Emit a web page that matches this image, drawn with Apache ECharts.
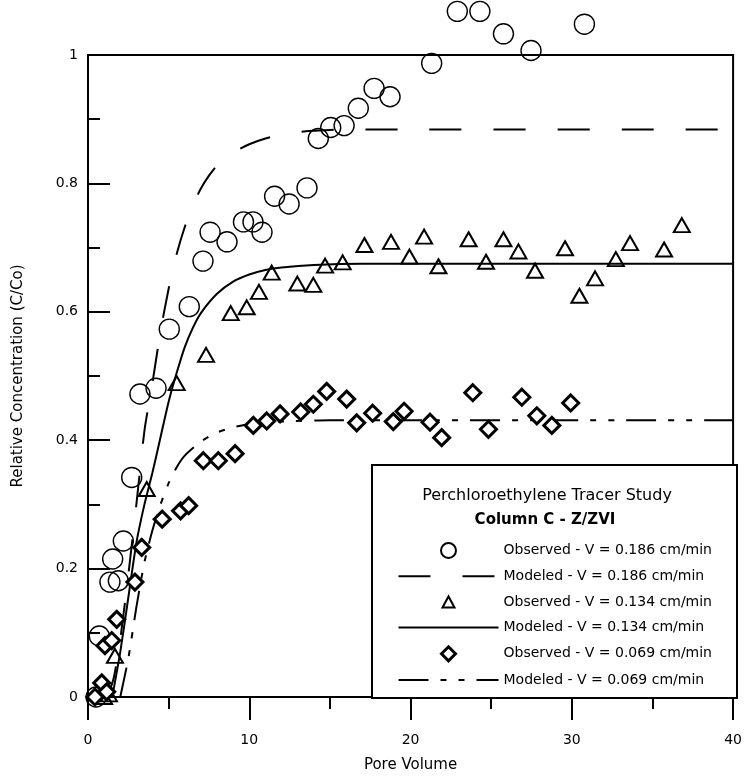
<!DOCTYPE html>
<html>
<head>
<meta charset="utf-8">
<script src="https://cdn.jsdelivr.net/npm/echarts@6/dist/echarts.min.js"></script>
<style>html,body{margin:0;padding:0;background:#fff;}#chart{width:745px;height:778px;}</style>
</head>
<body>
<div id="chart"></div>
<script>
// Observed data, V = 0.186 cm/min (circles)
const obs186 = [[0.5,0.0],[0.7,0.095],[1.36,0.179],[1.88,0.181],[1.53,0.215],[2.19,0.243],[2.71,0.342],
  [3.22,0.472],[4.22,0.481],[5.04,0.573],[6.28,0.608],[7.13,0.679],[7.57,0.724],[8.62,0.709],[9.64,0.740],
  [10.23,0.740],[10.79,0.724],[11.57,0.780],[12.47,0.768],[13.58,0.793],[14.28,0.870],[15.05,0.887],
  [15.88,0.890],[16.76,0.917],[17.74,0.948],[18.73,0.935],[21.31,0.987],[22.9,1.068],[24.3,1.068],
  [25.76,1.033],[27.47,1.007],[30.78,1.048]];
// Observed data, V = 0.134 cm/min (triangles)
const obs134 = [[1.0,0.0],[1.3,0.004],[1.67,0.064],[3.64,0.324],[5.50,0.489],[7.32,0.533],[8.85,0.598],
  [9.84,0.607],[10.6,0.631],[11.39,0.661],[12.98,0.644],[13.97,0.642],[14.70,0.672],[15.79,0.677],
  [17.14,0.704],[18.79,0.709],[19.93,0.686],[20.84,0.717],[21.73,0.671],[23.6,0.713],[24.68,0.678],
  [25.76,0.713],[26.69,0.694],[27.72,0.664],[29.58,0.699],[30.47,0.625],[31.44,0.652],[32.73,0.682],
  [33.61,0.707],[35.72,0.697],[36.82,0.735]];
// Observed data, V = 0.069 cm/min (diamonds)
const obs069 = [[0.43,0.0],[0.85,0.022],[1.16,0.008],[1.05,0.08],[1.47,0.088],[1.78,0.121],[2.91,0.179],
  [3.33,0.233],[4.6,0.277],[5.74,0.29],[6.24,0.298],[7.15,0.368],[8.08,0.368],[9.12,0.379],[10.25,0.423],
  [11.08,0.430],[11.91,0.441],[13.19,0.444],[13.97,0.456],[14.80,0.476],[16.04,0.464],[16.66,0.427],
  [17.65,0.442],[18.93,0.429],[19.60,0.445],[21.21,0.428],[21.93,0.404],[23.86,0.474],[24.83,0.417],
  [26.90,0.467],[27.83,0.438],[28.76,0.423],[29.93,0.458]];
// Modeled curves
const mod186 = [[1.2,0],[1.6,0.03],[2.0,0.09],[2.5,0.19],[3.0,0.30],[3.5,0.415],[4.0,0.49],[4.5,0.57],
  [5.0,0.636],[5.5,0.69],[6.0,0.732],[6.5,0.766],[7.0,0.792],[7.5,0.812],[8.0,0.828],[9.0,0.848],
  [10,0.861],[11,0.870],[12,0.876],[13,0.880],[14,0.882],[16,0.884],[40,0.884]];
const mod134 = [[1.5,0],[2.0,0.07],[2.5,0.155],[3.0,0.24],[3.5,0.30],[4.0,0.35],[4.5,0.405],[5.0,0.46],
  [5.5,0.505],[6.0,0.545],[6.5,0.575],[7.0,0.598],[8.0,0.628],[9.0,0.647],[10,0.658],[11,0.665],
  [12,0.669],[14,0.673],[17,0.675],[40,0.675]];
const mod069 = [[2.0,0],[2.5,0.06],[3.0,0.14],[3.5,0.21],[4.0,0.26],[4.5,0.30],[5.0,0.333],[5.5,0.358],
  [6.0,0.376],[7.0,0.398],[8.0,0.412],[9.0,0.420],[10,0.425],[12,0.429],[15,0.431],[40,0.431]];

const seriesNames = ['Observed - V = 0.186 cm/min','Modeled - V = 0.186 cm/min',
  'Observed - V = 0.134 cm/min','Modeled - V = 0.134 cm/min',
  'Observed - V = 0.069 cm/min','Modeled - V = 0.069 cm/min'];
const legendTitle = 'Perchloroethylene Tracer Study';
const legendSubtitle = 'Column C - Z/ZVI';
const xTitle = 'Pore Volume';
const yTitle = 'Relative Concentration (C/Co)';

const FONT = 'DejaVu Sans';
// legend icons: a small marker centred in a 100x15 icon box (corner anchors keep the box size)
const anchors = 'M0,0L0.01,0M99.99,15L100,15';
const triIcon = 'path://' + anchors + 'M44,13L50,2L56,13Z';
const diaIcon = 'path://' + anchors + 'M43,7.5L50,0.5L57,7.5L50,14.5Z';

const chart = echarts.init(document.getElementById('chart'));
const hiddenSymbol = {color: '#000', opacity: 0};
const option = {
  animation: false,
  backgroundColor: '#fff',
  grid: {left: 88, right: 10, top: 55, bottom: 80, show: true, borderColor: '#000', borderWidth: 2, backgroundColor: 'transparent'},
  xAxis: {
    type: 'value', min: 0, max: 40, interval: 10,
    name: xTitle, nameLocation: 'middle', nameGap: 61,
    nameTextStyle: {fontFamily: FONT, fontSize: 15, color: '#000'},
    axisLine: {lineStyle: {color: '#000', width: 2}},
    axisTick: {show: true, length: 23, lineStyle: {color: '#000', width: 2}},
    minorTick: {show: true, splitNumber: 2, length: 12, lineStyle: {color: '#000', width: 2}},
    axisLabel: {margin: 36, fontFamily: FONT, fontSize: 14, color: '#000'},
    splitLine: {show: false}
  },
  yAxis: {
    type: 'value', min: 0, max: 1, interval: 0.2,
    name: yTitle, nameLocation: 'middle', nameGap: 62, nameRotate: 90,
    nameTextStyle: {fontFamily: FONT, fontSize: 15, color: '#000'},
    axisLine: {lineStyle: {color: '#000', width: 2}},
    axisTick: {show: true, inside: true, length: 22, lineStyle: {color: '#000', width: 2}},
    minorTick: {show: true, splitNumber: 2, length: 12, lineStyle: {color: '#000', width: 2}},
    axisLabel: {margin: 10, fontFamily: FONT, fontSize: 14, color: '#000'},
    splitLine: {show: false}
  },
  legend: {
    orient: 'vertical', left: 392, top: 537, itemWidth: 100, itemHeight: 15, itemGap: 10.2,
    z: 10, selectedMode: false,
    textStyle: {fontFamily: FONT, fontSize: 14, color: '#000', padding: [0,0,0,0]},
    data: [
      {name: seriesNames[0]},
      {name: seriesNames[1]},
      {name: seriesNames[2], icon: triIcon},
      {name: seriesNames[3]},
      {name: seriesNames[4], icon: diaIcon, itemStyle: {borderWidth: 3}},
      {name: seriesNames[5]}
    ]
  },
  graphic: [
    {type: 'rect', z: 5, shape: {x: 372, y: 465, width: 365, height: 233},
      style: {fill: '#fff', stroke: '#000', lineWidth: 2}},
    {type: 'text', z: 6, x: 547, y: 496, style: {text: legendTitle, font: '16px "DejaVu Sans"', fill: '#000', textAlign: 'center', textVerticalAlign: 'middle'}},
    {type: 'text', z: 6, x: 545, y: 520, style: {text: legendSubtitle, font: 'bold 15px "DejaVu Sans"', fill: '#000', textAlign: 'center', textVerticalAlign: 'middle'}}
  ],
  series: [
    {name: seriesNames[0], type: 'scatter', data: obs186, symbol: 'circle', symbolSize: 20, clip: false, z: 3,
      itemStyle: {color: 'rgba(255,255,255,0)', borderColor: '#000', borderWidth: 1.4, opacity: 1}},
    {name: seriesNames[1], type: 'line', data: mod186, symbol: 'none', smooth: 0.2, z: 2,
      itemStyle: hiddenSymbol, lineStyle: {color: '#000', width: 2, type: [32, 32]}},
    {name: seriesNames[2], type: 'scatter', data: obs134, symbol: 'triangle', symbolSize: [16, 14], clip: false, z: 3,
      itemStyle: {color: 'rgba(255,255,255,0)', borderColor: '#000', borderWidth: 2, opacity: 1}},
    {name: seriesNames[3], type: 'line', data: mod134, symbol: 'none', smooth: 0.2, z: 2,
      itemStyle: hiddenSymbol, lineStyle: {color: '#000', width: 2, type: 'solid'}},
    {name: seriesNames[4], type: 'scatter', data: obs069, symbol: 'diamond', symbolSize: 16, clip: false, z: 3,
      itemStyle: {color: '#fff', borderColor: '#000', borderWidth: 3, opacity: 1}},
    {name: seriesNames[5], type: 'line', data: mod069, symbol: 'none', smooth: 0.2, z: 2,
      itemStyle: hiddenSymbol, lineStyle: {color: '#000', width: 2, type: [30, 12, 6, 12, 6, 12]}}
  ]
};
chart.setOption(option);
</script>
</body>
</html>
